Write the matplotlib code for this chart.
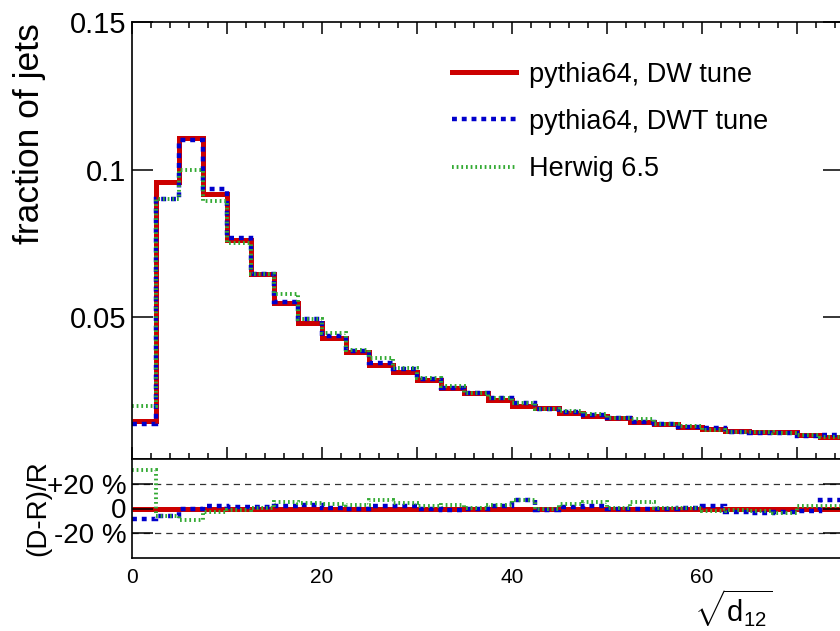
import numpy as np
import matplotlib
matplotlib.use("Agg")
import matplotlib.pyplot as plt

#==============================================================================================
# Data ========================================================================================
#==============================================================================================

bin_edges = np.arange(0, 75.01, 2.5)  # 30 bins of width 2.5

frac_dw = [0.0149, 0.0959, 0.1106, 0.0918, 0.0762, 0.0646, 0.0548, 0.0480, 0.0429, 0.0384,
           0.0339, 0.0314, 0.0288, 0.0260, 0.0243, 0.0220, 0.0198, 0.0192, 0.0177, 0.0164,
           0.0158, 0.0147, 0.0138, 0.0130, 0.0122, 0.0115, 0.0113, 0.0111, 0.0100, 0.0094]
frac_dwt = [0.0139, 0.0901, 0.1100, 0.0935, 0.0768, 0.0646, 0.0553, 0.0495, 0.0435, 0.0387,
            0.0345, 0.0324, 0.0291, 0.0260, 0.0243, 0.0226, 0.0209, 0.0190, 0.0179, 0.0168,
            0.0158, 0.0146, 0.0138, 0.0130, 0.0124, 0.0112, 0.0109, 0.0108, 0.0098, 0.0100]
frac_herwig = [0.0198, 0.0901, 0.0999, 0.0894, 0.0753, 0.0646, 0.0578, 0.0495, 0.0446, 0.0390,
               0.0362, 0.0328, 0.0295, 0.0268, 0.0244, 0.0227, 0.0211, 0.0190, 0.0183, 0.0172,
               0.0159, 0.0154, 0.0139, 0.0131, 0.0119, 0.0113, 0.0111, 0.0107, 0.0102, 0.0096]

# (D-R)/R with R = DW tune
ratio_dw = [0.0] * 30
ratio_dwt = [-0.087, -0.061, -0.008, 0.018, 0.013, 0.010, 0.018, 0.026, 0.005, 0.000,
             0.018, 0.024, -0.003, -0.013, -0.008, 0.024, 0.066, -0.013, 0.010, 0.024,
             -0.003, -0.008, 0.000, 0.005, 0.024, -0.029, -0.040, -0.029, -0.021, 0.066]
ratio_herwig = [0.315, -0.061, -0.093, -0.029, -0.013, 0.005, 0.056, 0.045, 0.037, 0.032,
                0.066, 0.045, 0.024, 0.030, 0.005, 0.030, 0.066, -0.008, 0.037, 0.050,
                0.005, 0.050, 0.005, 0.005, -0.021, -0.016, -0.021, -0.034, 0.018, 0.018]

labels = ["pythia64, DW tune", "pythia64, DWT tune", "Herwig 6.5"]
top_yticks = [0.05, 0.1, 0.15]
top_yticklabels = ["0.05", "0.1", "0.15"]
ratio_yticks = [-0.2, 0.0, 0.2]
ratio_yticklabels = ["-20 %", "0", "+20 %"]
xtick_vals = [0, 20, 40, 60]

#==============================================================================================
# Style =======================================================================================
#==============================================================================================

plt.rcParams['font.family'] = ['Liberation Sans', 'DejaVu Sans']
plt.rcParams['mathtext.fontset'] = 'custom'
plt.rcParams['mathtext.rm'] = 'Liberation Sans'
plt.rcParams['mathtext.it'] = 'Liberation Sans'
plt.rcParams['axes.linewidth'] = 1.2

c_red = '#cc0000'
c_blue = '#0000cc'
c_green = '#33aa33'

styles = [dict(color=c_red, lw=3.6, ls='-'),
          dict(color=c_blue, lw=3.2, ls=(0, (1.1, 1.1))),
          dict(color=c_green, lw=2.8, ls=(0, (0.45, 0.75)))]

W, H = 840, 631
fig = plt.figure(figsize=(W / 100, H / 100), dpi=100)

x0, x1 = 132, 844
ax1 = fig.add_axes([x0 / W, 1 - 459 / H, (x1 - x0) / W, (459 - 22) / H])
ax2 = fig.add_axes([x0 / W, 1 - 558 / H, (x1 - x0) / W, (558 - 459) / H])

#==============================================================================================
# Top panel ===================================================================================
#==============================================================================================

for vals, st, lab in zip([frac_dw, frac_dwt, frac_herwig], styles, labels):
    ax1.stairs(vals, bin_edges, baseline=None, label=lab, **st)

ax1.set_xlim(0, 75)
ax1.set_ylim(0.002, 0.15)
ax1.set_yticks(top_yticks)
ax1.set_yticklabels(top_yticklabels, fontsize=21)
ax1.set_xticks(np.arange(0, 75.1, 10))
ax1.set_xticks(np.arange(0, 75.1, 2), minor=True)
ax1.tick_params(axis='x', which='major', direction='in', top=True, bottom=True,
                length=8.6, width=1.1, labelbottom=False)
ax1.tick_params(axis='x', which='minor', direction='in', top=True, bottom=True,
                length=4.3, width=1.1)
ax1.tick_params(axis='y', which='major', direction='in', left=True, right=True,
                length=15, width=1.1, pad=4)

leg = ax1.legend(loc='upper left', bbox_to_anchor=((452 - x0) / (x1 - x0), 0.909),
                 frameon=False, fontsize=19.5, handlelength=2.35, handletextpad=0.5,
                 labelspacing=0.78, borderpad=0, borderaxespad=0)

fig.text(30 / W, 1 - 23 / H, "fraction of jets", rotation=90, ha='center', va='top',
         fontsize=25.5)

#==============================================================================================
# Ratio panel =================================================================================
#==============================================================================================

for vals, st in zip([ratio_dw, ratio_dwt, ratio_herwig], styles):
    ax2.stairs(vals, bin_edges, baseline=None, **st)

for yv in [-0.2, 0.2]:
    ax2.axhline(yv, color='#333333', lw=0.9, ls=(0, (5, 4)), zorder=0)

ax2.set_xlim(0, 75)
ax2.set_ylim(-0.4, 0.4)
ax2.set_yticks(ratio_yticks)
ax2.set_yticklabels(ratio_yticklabels, fontsize=20)
ax2.set_xticks(xtick_vals)
ax2.set_xticklabels([str(v) for v in xtick_vals], fontsize=15)
ax2.tick_params(axis='x', length=0, pad=7)
ax2.tick_params(axis='y', direction='in', left=True, right=True, length=15, width=1.1, pad=4)

fig.text(38 / W, 1 - 508 / H, "(D-R)/R", rotation=90, ha='center', va='center', fontsize=20)
fig.text(733 / W, 1 - 608 / H, r"$\sqrt{\mathrm{d}_{12}}$", ha='center', va='center',
         fontsize=21)

fig.savefig("out.png", dpi=100)
